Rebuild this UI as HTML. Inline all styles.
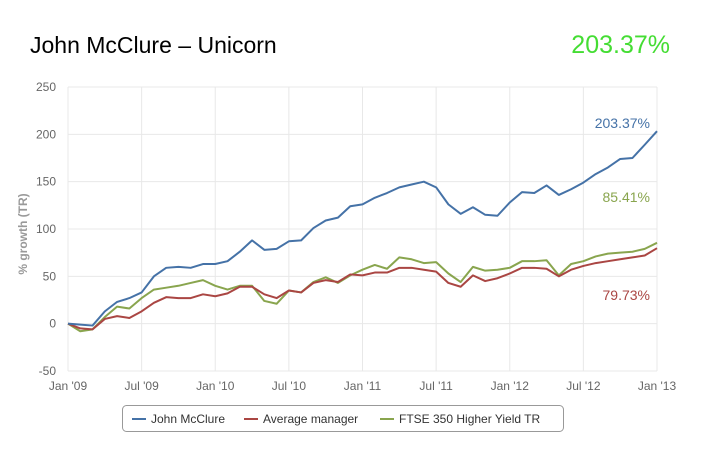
<!DOCTYPE html>
<html><head><meta charset="utf-8"><style>
body{margin:0;background:#fff;font-family:"Liberation Sans",Arial,sans-serif}
#wrap{position:relative;width:710px;height:466px;overflow:hidden}
.title{position:absolute;left:30px;top:32px;font-size:23px;color:#000}
.big{position:absolute;right:40px;top:31px;font-size:25px;color:#44dd33}
</style></head><body>
<div id="wrap">
<div class="title">John McClure – Unicorn</div>
<div class="big">203.37%</div>
<svg id="svg" width="710" height="466" style="position:absolute;left:0;top:0"></svg>
</div>
<script>
const months = 49;
const xTicks = ["Jan '09","Jul '09","Jan '10","Jul '10","Jan '11","Jul '11","Jan '12","Jul '12","Jan '13"];
const yTicks = [-50,0,50,100,150,200,250];
const mcclure = [0,-1,-2,13,23,27,33,50,59,60,59,63, 63,66,76,88,78,79,87,88,101,109,112,124, 126,133,138,144,147,150,144,126,116,123,115,114, 128,139,138,146,136,142,149,158,165,174,175,189,203.37];
const avgManager = [0,-5,-6,5,8,6,13,22,28,27,27,31, 29,32,39,39,31,27,35,33,43,46,44,52, 51,54,54,59,59,57,55,43,39,51,45,48, 53,59,59,58,50,57,61,64,66,68,70,72,79.73];
const ftse = [0,-8,-6,7,18,16,27,36,38,40,43,46, 40,36,40,40,24,21,35,33,44,49,43,51, 57,62,58,70,68,64,65,53,44,60,56,57, 59,66,66,67,51,63,66,71,74,75,76,79,85.41];
const seriesNames = ["John McClure","Average manager","FTSE 350 Higher Yield TR"];

const svg=document.getElementById('svg');const NS='http://www.w3.org/2000/svg';
const X0=68,X1=657,Y0=371,Y1=87;
const xs=i=>X0+(X1-X0)*i/(months-1);
const ys=v=>Y0-(v+50)/300*(Y0-Y1);
function mk(t,a,p){const e=document.createElementNS(NS,t);for(const k in a)e.setAttribute(k,a[k]);(p||svg).appendChild(e);return e;}
yTicks.forEach(v=>{
 const l=mk('line',{x1:X0,x2:X1,y1:ys(v),y2:ys(v),stroke:'#e8e8e8','stroke-width':1});
 
 
 const t=mk('text',{x:56,y:ys(v)+4,'text-anchor':'end','font-size':12,fill:'#666'});t.textContent=v;
 
 
});
xTicks.forEach((s,i)=>{
 const x=xs(i*6);
 const l=mk('line',{x1:x,x2:x,y1:Y1,y2:Y0,stroke:'#e8e8e8','stroke-width':1});
 
 
 const t=mk('text',{x:x,y:Y0+19,'text-anchor':'middle','font-size':12,fill:'#666'});t.textContent=s;
 
 
});
const yt=mk('text',{x:0,y:0,transform:`translate(27,234) rotate(-90)`,'text-anchor':'middle','font-size':12,'font-weight':'bold',fill:'#999'});
yt.textContent='% growth (TR)';


const colors=['#4572a7','#aa4643','#89a54e'];
[[ftse,2],[avgManager,1],[mcclure,0]].forEach(([d,c])=>{
 const p=mk('polyline',{points:d.map((v,i)=>xs(i)+','+ys(v)).join(' '),fill:'none',stroke:colors[c],'stroke-width':2,'stroke-linejoin':'round'});
 
 
});
[[mcclure,0,-3],[ftse,2,-41],[avgManager,1,52]].forEach(([d,c,dy])=>{
 const v=d[d.length-1];
 const t=mk('text',{x:650,y:ys(v)+dy,'text-anchor':'end','font-size':14,fill:colors[c]});
 t.textContent=v.toFixed(2)+'%';
 
 
});
const g=mk('g',{});


mk('rect',{x:122.5,y:405.5,width:441,height:26,rx:4,fill:'#fff',stroke:'#999'},g);
const lx=[132,244,380];
seriesNames.forEach((n,i)=>{
 const e=mk('g',{},g);
 
 
 mk('line',{x1:lx[i],x2:lx[i]+14,y1:419,y2:419,stroke:colors[i],'stroke-width':2},e);
 const t=mk('text',{x:lx[i]+19,y:423,'font-size':12,fill:'#333'},e);t.textContent=n;
});
</script>
</body></html>
